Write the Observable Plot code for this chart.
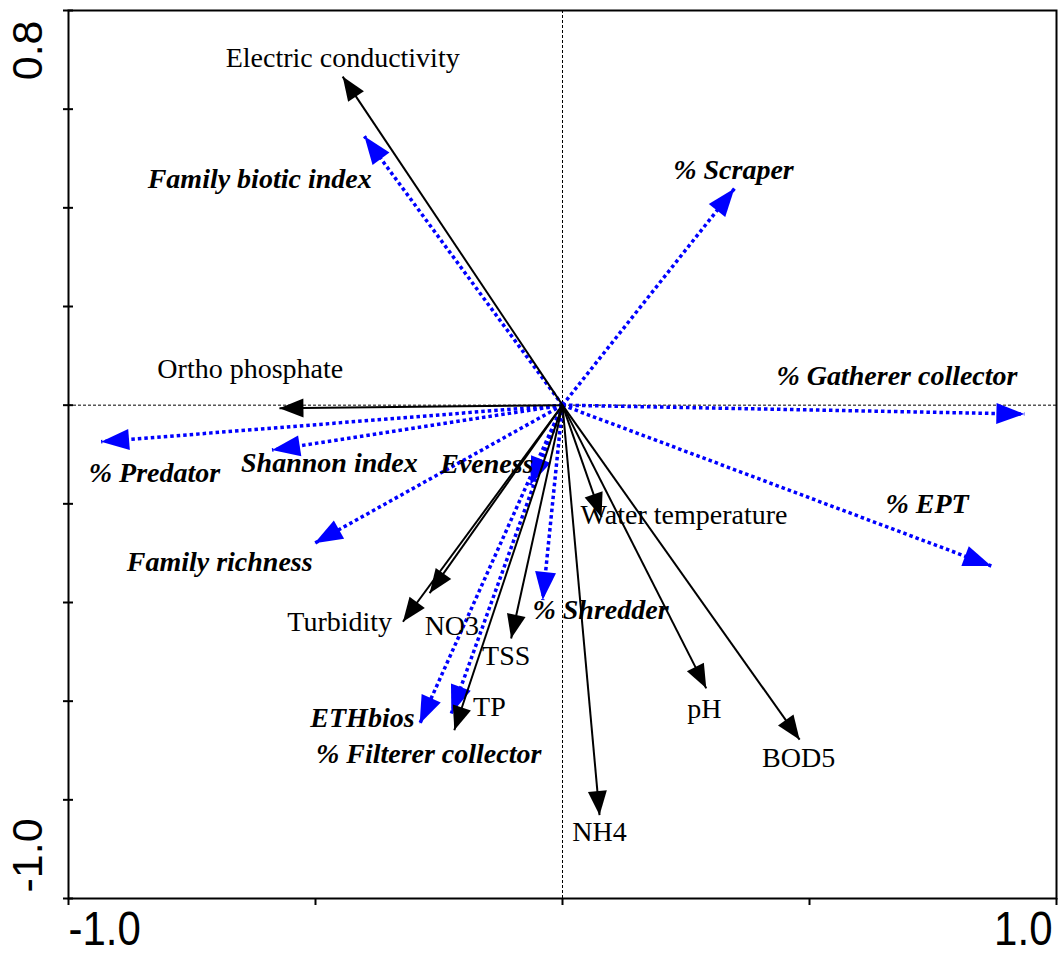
<!DOCTYPE html>
<html><head><meta charset="utf-8">
<script src="https://cdn.jsdelivr.net/npm/d3@7"></script>
<script src="https://cdn.jsdelivr.net/npm/@observablehq/plot@0.6"></script>
<style>
html,body{margin:0;padding:0;background:#fff;}
</style>
</head><body><div id="chart"></div>
<script>
// Environmental variables (black solid arrows)
const envNames = ["Electric conductivity","Ortho phosphate","Turbidity","NO3","TSS","TP","Water temperature","NH4","pH","BOD5"];
const envX = [-0.445,-0.573,-0.323,-0.269,-0.104,-0.219,0.079,0.075,0.291,0.480];
const envY = [0.666,-0.006,-0.439,-0.381,-0.473,-0.659,-0.227,-0.831,-0.574,-0.678];
const envLabelX = [-0.445,-0.632,-0.451,-0.224,-0.114,-0.148,0.246,0.075,0.287,0.478];
const envLabelY = [0.704,0.073,-0.440,-0.448,-0.509,-0.611,-0.223,-0.866,-0.615,-0.715];

// Biological metrics (blue dotted arrows)
const bioNames = ["Family biotic index","% Scraper","% Gatherer collector","% EPT","% Predator","Shannon index","Family richness","Eveness","% Shredder","ETHbios","% Filterer collector"];
const bioX = [-0.401,0.348,0.935,0.868,-0.934,-0.588,-0.502,-0.065,-0.040,-0.289,-0.225];
const bioY = [0.545,0.439,-0.018,-0.326,-0.074,-0.091,-0.280,-0.162,-0.395,-0.646,-0.625];
const bioLabelX = [-0.613,0.346,0.677,0.738,-0.826,-0.472,-0.694,-0.153,0.077,-0.405,-0.271];
const bioLabelY = [0.458,0.477,0.059,-0.201,-0.137,-0.117,-0.318,-0.120,-0.416,-0.635,-0.708];

// Axes
const xTicks = [-1,-0.5,0,0.5,1];
const yTicks = [-1,-0.8,-0.6,-0.4,-0.2,0,0.2,0.4,0.6,0.8];
const xTickLabels = [-1.0, 1.0];
const yTickLabels = [0.8, -1.0];

const env = envNames.map((n,i)=>({name:n, x:envX[i], y:envY[i], lx:envLabelX[i], ly:envLabelY[i]}));
const bio = bioNames.map((n,i)=>({name:n, x:bioX[i], y:bioY[i], lx:bioLabelX[i], ly:bioLabelY[i]}));

const serif = "'Liberation Serif','Times New Roman',Times,serif";
const sans = "'Liberation Sans',Arial,Helvetica,sans-serif";

const chart = Plot.plot({
  width: 1060,
  height: 958,
  marginLeft: 68,
  marginRight: 4,
  marginTop: 10,
  marginBottom: 60,
  x: {domain: [-1, 1]},
  y: {domain: [-1, 0.8]},
  style: {background: "#fff", fontFamily: serif},
  marks: [
    Plot.ruleX([0], {stroke: "#000", strokeWidth: 1, strokeDasharray: "3,2"}),
    Plot.ruleY([0], {stroke: "#000", strokeWidth: 1, strokeDasharray: "3,2"}),
    Plot.link(bio, {x1: 0, y1: 0, x2: "x", y2: "y", stroke: "#0000ff", strokeWidth: 3.5, strokeDasharray: "3.5,3", strokeLinecap: "butt"}),
    Plot.link(env, {x1: 0, y1: 0, x2: "x", y2: "y", stroke: "#000", strokeWidth: 2}),
    Plot.text(env, {x: "lx", y: "ly", text: "name", fontSize: 28, fontFamily: serif, fill: "#000", textAnchor: "middle", lineAnchor: "middle"}),
    Plot.text(bio, {x: "lx", y: "ly", text: "name", fontSize: 28, fontFamily: serif, fontWeight: "bold", fontStyle: "italic", fill: "#000", textAnchor: "middle", lineAnchor: "middle"}),
    Plot.frame({stroke: "#000", strokeWidth: 2}),
    Plot.axisY({ticks: yTicks, tickSize: 10, dx: 5, tickFormat: () => "", label: null, strokeWidth: 2}),
    Plot.axisX({ticks: xTicks, tickSize: 7, tickFormat: () => "", label: null, strokeWidth: 2}),
    Plot.text([xTickLabels[0]], {x: d => d, frameAnchor: "bottom", lineAnchor: "top", textAnchor: "start", dy: 12, text: d => d.toFixed(1), fontSize: 42, fontFamily: sans, fill: "#000"}),
    Plot.text([xTickLabels[1]], {x: d => d, frameAnchor: "bottom", lineAnchor: "top", textAnchor: "end", dx: -4, dy: 12, text: d => d.toFixed(1), fontSize: 42, fontFamily: sans, fill: "#000"}),
    Plot.text([yTickLabels[0]], {y: d => d, frameAnchor: "left", rotate: -90, lineAnchor: "middle", textAnchor: "end", dx: -40, dy: 10, text: d => d.toFixed(1), fontSize: 43, fontFamily: sans, fill: "#000"}),
    Plot.text([yTickLabels[1]], {y: d => d, frameAnchor: "left", rotate: -90, lineAnchor: "middle", textAnchor: "start", dx: -40, dy: -6, text: d => d.toFixed(1), fontSize: 43, fontFamily: sans, fill: "#000"})
  ]
});

document.getElementById("chart").appendChild(chart);

// Filled arrowheads as SVG markers
const svg = chart.tagName.toLowerCase() === "svg" ? chart : chart.querySelector("svg");
const root = d3.select(svg);
const defs = root.append("defs");
function makeHead(id, color, len, half) {
  defs.append("marker")
    .attr("id", id)
    .attr("viewBox", `${-len - 2} ${-half - 2} ${len + 4} ${2 * half + 4}`)
    .attr("refX", 0).attr("refY", 0)
    .attr("markerWidth", len + 4).attr("markerHeight", 2 * half + 4)
    .attr("markerUnits", "userSpaceOnUse")
    .attr("orient", "auto")
    .append("path")
    .attr("d", `M0,0L${-len},${-half}L${-len},${half}Z`)
    .attr("fill", color)
    .attr("stroke", "none");
}
makeHead("headBlack", "#000", 24, 9.5);
makeHead("headBlue", "#0000ff", 28, 10.5);
const linkGroups = svg.querySelectorAll('g[aria-label="link"]');
if (linkGroups[0]) d3.select(linkGroups[0]).selectAll("path").attr("marker-end", "url(#headBlue)");
if (linkGroups[1]) d3.select(linkGroups[1]).selectAll("path").attr("marker-end", "url(#headBlack)");

// Slightly stretched x tick labels, as in the original
const textGroups = svg.querySelectorAll('g[aria-label="text"]');
[textGroups[2], textGroups[3]].forEach(g => {
  if (!g) return;
  d3.select(g).selectAll("text").each(function() {
    const t = d3.select(this);
    let tr = t.attr("transform");
    if (!tr) {
      tr = `translate(${t.attr("x") || 0},${t.attr("y") || 0})`;
      t.attr("x", null).attr("y", null);
    }
    t.attr("transform", tr + " scale(1,1.15)");
  });
});
</script>
</body></html>
